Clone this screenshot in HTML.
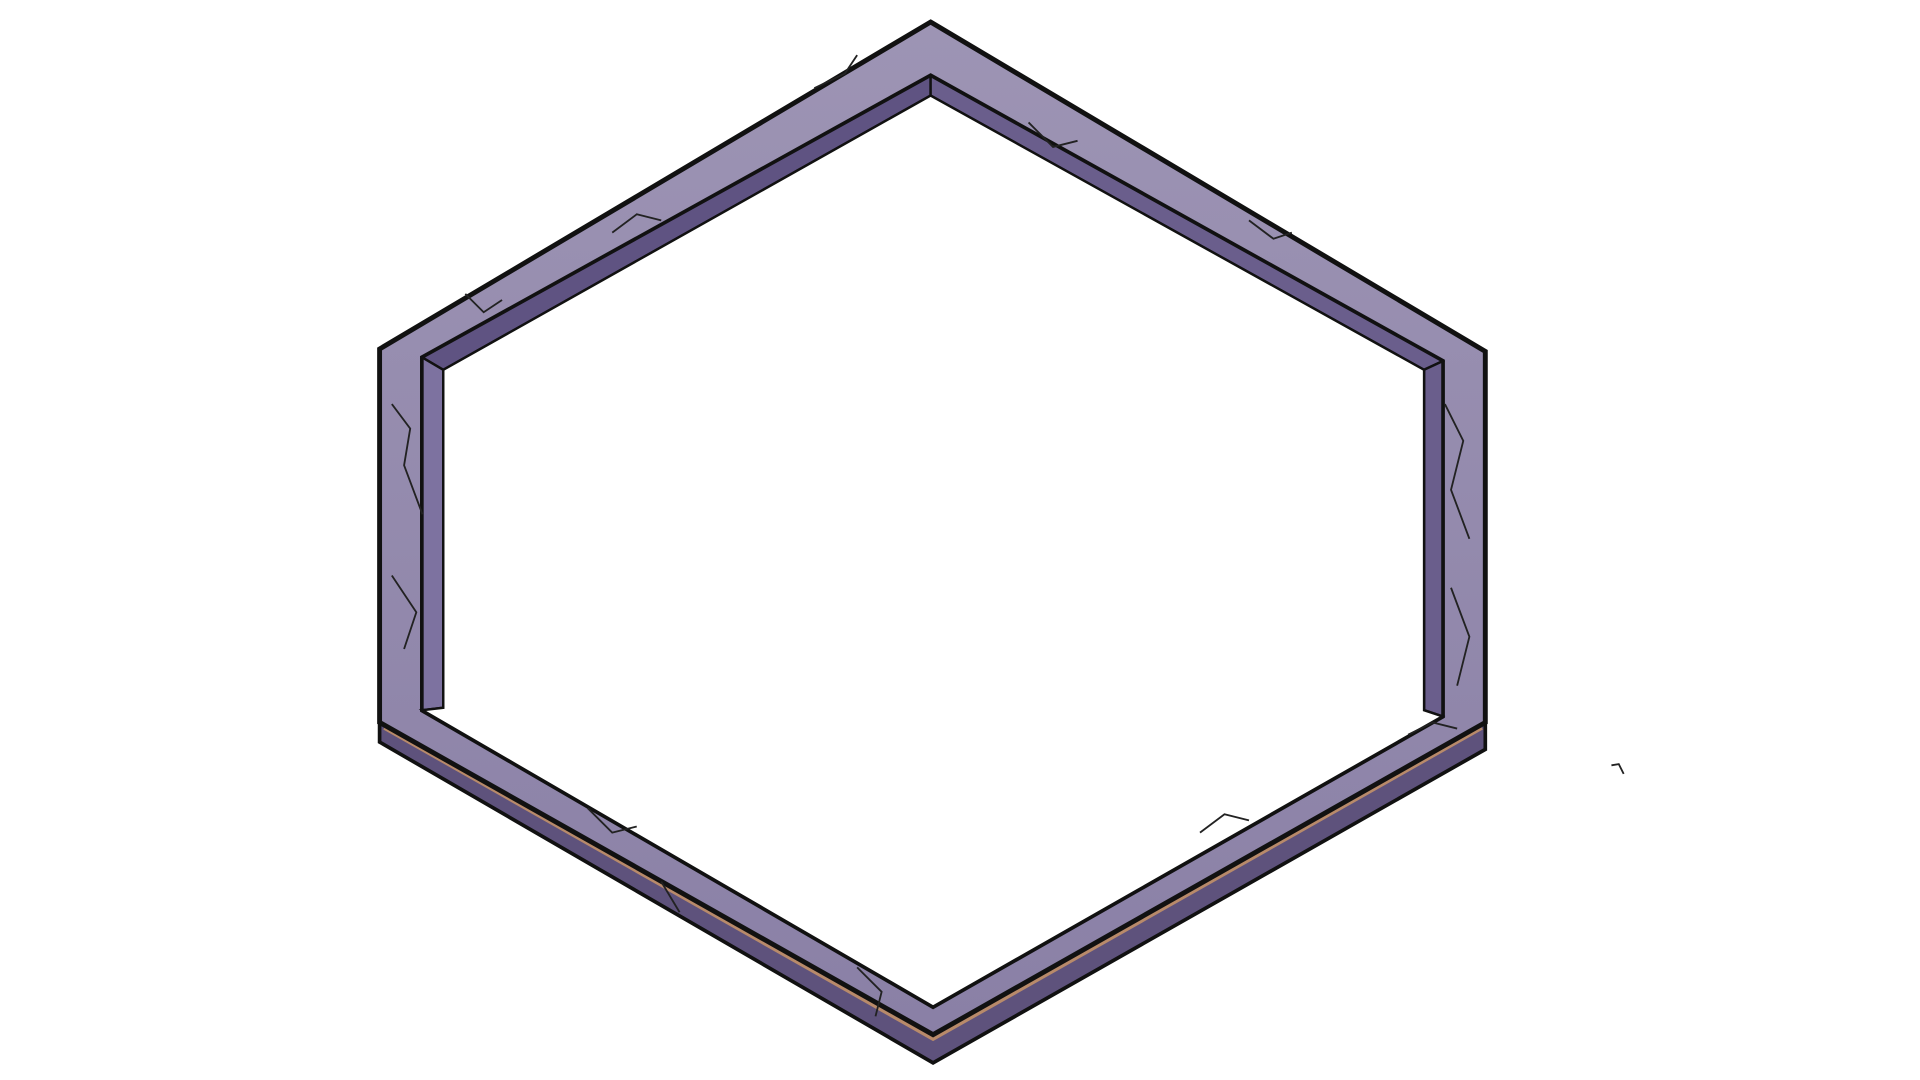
<!DOCTYPE html>
<html>
<head>
<meta charset="utf-8">
<style>
html,body{margin:0;padding:0;background:#fff;width:1920px;height:1080px;overflow:hidden;}
svg{display:block;}
</style>
</head>
<body>
<svg width="1920" height="1080" viewBox="0 0 1568 882" preserveAspectRatio="none" xmlns="http://www.w3.org/2000/svg">
  <defs>
    <linearGradient id="top" x1="0" y1="0" x2="0" y2="1">
      <stop offset="0" stop-color="#9d94b4"/>
      <stop offset="1" stop-color="#8a80a6"/>
    </linearGradient>
  </defs>
  <polygon points="310,590 762,845 1213,590 1213,612 762,868 310,606" fill="#5e527c" stroke="#111" stroke-width="3"/>
  <polyline points="314,594 762,848 1210,594" fill="none" stroke="#b88a6a" stroke-width="4"/>
  <path fill-rule="evenodd" fill="url(#top)" stroke="#111" stroke-width="4"
    d="M760,18 L1213,287 L1213,590 L762,845 L310,590 L310,285 Z
       M760,62 L1178,295 L1178,585 L762,822 L345,580 L345,292 Z"/>
  <polygon points="345,292 760,62 760,78 362,302" fill="#5f5382" stroke="#111" stroke-width="2"/>
  <polygon points="760,62 1178,295 1163,302 760,78" fill="#6a5e8c" stroke="#111" stroke-width="2"/>
  <polygon points="345,292 362,302 362,578 345,580" fill="#7d72a0" stroke="#111" stroke-width="2"/>
  <polygon points="1178,295 1163,302 1163,580 1178,585" fill="#6a5e8c" stroke="#111" stroke-width="2"/>
  <polygon points="760,78 1163,302 1163,580 1178,585 762,822 345,580 362,578 362,302" fill="#fff" stroke="#111" stroke-width="2"/>
  <g stroke="#222" stroke-width="1.5" fill="none">
    <path d="M665,72 L690,60 L700,45"/>
    <path d="M500,190 L520,175 L540,180"/>
    <path d="M380,240 L395,255 L410,245"/>
    <path d="M320,330 L335,350 L330,380 L345,420"/>
    <path d="M320,470 L340,500 L330,530"/>
    <path d="M480,660 L500,680 L520,675"/>
    <path d="M540,720 L555,745"/>
    <path d="M700,790 L720,810 L715,830"/>
    <path d="M840,100 L860,120 L880,115"/>
    <path d="M1020,180 L1040,195 L1055,190"/>
    <path d="M1180,330 L1195,360 L1185,400 L1200,440"/>
    <path d="M1185,480 L1200,520 L1190,560"/>
    <path d="M980,680 L1000,665 L1020,670"/>
    <path d="M1150,600 L1170,590 L1190,595"/>
  </g>
  <path d="M1316,625 L1322,624 L1326,632" stroke="#222" stroke-width="1.5" fill="none"/>
</svg>
</body>
</html>
